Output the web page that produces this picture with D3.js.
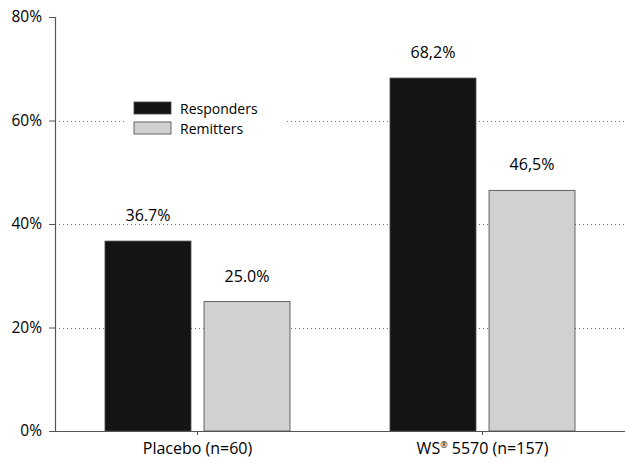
<!DOCTYPE html>
<html>
<head>
<meta charset="utf-8">
<script src="https://cdn.jsdelivr.net/npm/d3@7"></script>
<style>
  body { margin: 0; background: #fff; }
  svg text { font-family: "Open Sans", "Noto Sans", sans-serif; fill: #000; }
</style>
</head>
<body>
<div id="chart"></div>
<script>
// chart data
var groups = ["Placebo (n=60)", "WS 5570 (n=157)"];
var series = ["Responders", "Remitters"];
var responders = [36.7, 68.2];
var remitters = [25.0, 46.5];
var barLabels = [["36.7%", "25.0%"], ["68,2%", "46,5%"]];
var yTicks = [0, 20, 40, 60, 80];
var colors = ["#141414", "#d0d1d3"];

var width = 625, height = 463;
var margin = {left: 55, right: 0, top: 17, bottom: 32};

var svg = d3.select("#chart").append("svg")
    .attr("width", width)
    .attr("height", height);

var y = d3.scaleLinear().domain([0, 80]).range([height - margin.bottom, margin.top]);
var x0 = d3.scaleBand().domain(groups).range([margin.left, width - margin.right]).padding(0);
var x1 = d3.scaleBand().domain(series).range([50, 235]).paddingInner(0.132).paddingOuter(0);

//dotted grid lines
svg.append("g").selectAll("line")
    .data(yTicks.filter(function (d) { return d > 0 && d < 80; }))
    .enter().append("line")
    .attr("x1", margin.left).attr("x2", width)
    .attr("y1", function (d) { return Math.round(y(d)) + 0.5; })
    .attr("y2", function (d) { return Math.round(y(d)) + 0.5; })
    .attr("stroke", "#777")
    .attr("stroke-width", 1)
    .attr("stroke-dasharray", "1,3");

//build rows from the arrays
var rows = groups.map(function (g, i) {
    return {group: g, i: i, vals: [
        {s: series[0], v: responders[i], label: barLabels[i][0]},
        {s: series[1], v: remitters[i], label: barLabels[i][1]}
    ]};
});

var gBars = svg.append("g").selectAll("g")
    .data(rows)
    .enter().append("g")
    .attr("transform", function (d) { return "translate(" + x0(d.group) + ",0)"; });

gBars.selectAll("rect")
    .data(function (d) { return d.vals; })
    .enter().append("rect")
    .attr("x", function (d) { return x1(d.s); })
    .attr("width", x1.bandwidth())
    .attr("y", function (d) { return y(d.v); })
    .attr("height", function (d) { return y(0) - y(d.v); })
    .attr("fill", function (d, i) { return colors[i]; })
    .attr("stroke", "#444")
    .attr("stroke-width", 0.8);

gBars.selectAll("text")
    .data(function (d) { return d.vals; })
    .enter().append("text")
    .attr("x", function (d) { return x1(d.s) + x1.bandwidth() / 2; })
    .attr("y", function (d) { return y(d.v) - 20; })
    .attr("text-anchor", "middle")
    .style("font-size", "16px")
    .text(function (d) { return d.label; });

//legend, with a white box over the grid line
var legend = svg.append("g").attr("transform", "translate(134,102)");
legend.append("rect")
    .attr("x", -10).attr("y", -6).attr("width", 160).attr("height", 40)
    .attr("fill", "#fff");
series.forEach(function (s, i) {
    legend.append("rect")
        .attr("x", 0).attr("y", i * 20)
        .attr("width", 37).attr("height", 12)
        .attr("fill", colors[i])
        .attr("stroke", "#444")
        .attr("stroke-width", 0.8);
    legend.append("text")
        .attr("x", 46).attr("y", i * 20 + 11.5)
        .style("font-size", "14px")
        .text(s);
});

//y axis
var yAxis = svg.append("g")
    .attr("transform", "translate(" + margin.left + ",0)")
    .call(d3.axisLeft(y).tickValues(yTicks).tickSize(6).tickPadding(7)
        .tickFormat(function (d) { return d + "%"; }));
yAxis.select(".domain").attr("stroke", "#555").attr("stroke-width", 1.2);
yAxis.selectAll(".tick line").attr("stroke", "#555");
yAxis.selectAll(".tick text").style("font-size", "15.5px").attr("fill", "#000")
    .style("font-family", "'Open Sans', sans-serif");

//x axis
var xAxis = svg.append("g")
    .attr("transform", "translate(0," + y(0) + ")")
    .call(d3.axisBottom(x0).tickSize(4).tickPadding(8).tickSizeOuter(0));
xAxis.select(".domain").attr("stroke", "#555").attr("stroke-width", 1.2);
xAxis.selectAll(".tick line").attr("stroke", "#555");
xAxis.selectAll(".tick text")
    .style("font-size", "16px").attr("fill", "#000")
    .style("font-family", "'Open Sans', sans-serif")
    .each(function (d) {
        var t = d3.select(this);
        if (d.indexOf("WS") === 0) {
            t.text("");
            t.append("tspan").text("WS");
            t.append("tspan").attr("dy", "-6px").style("font-size", "9px").text("®");
            t.append("tspan").attr("dy", "6px").text(" 5570 (n=157)");
        }
    });
</script>
</body>
</html>
